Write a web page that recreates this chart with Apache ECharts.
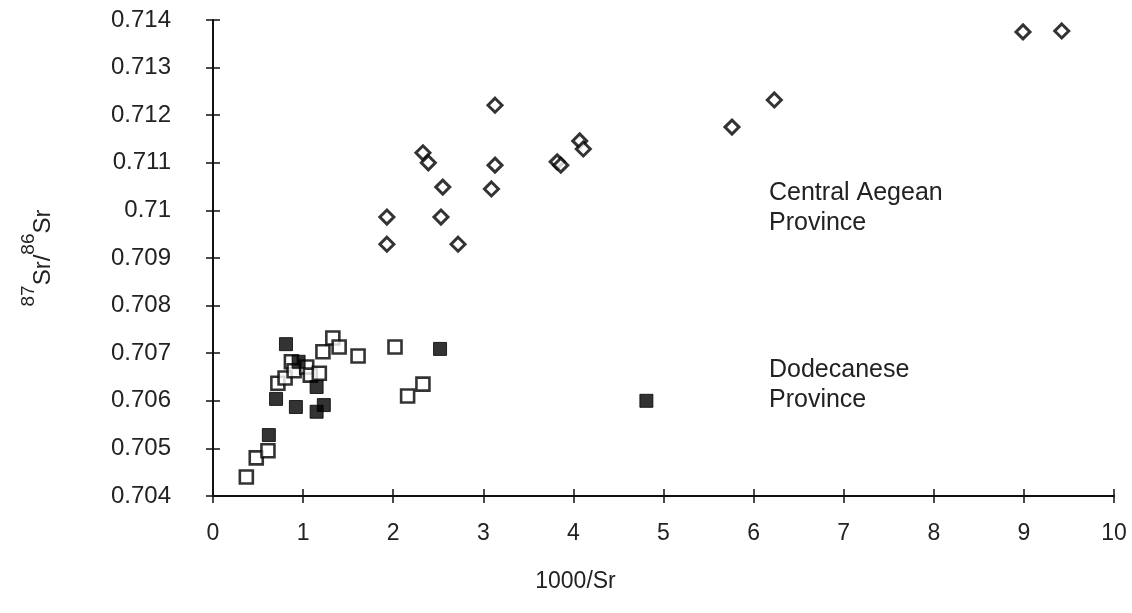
<!DOCTYPE html>
<html>
<head>
<meta charset="utf-8">
<script src="https://cdn.jsdelivr.net/npm/echarts@6/dist/echarts.min.js"></script>
<style>
  html, body { margin: 0; padding: 0; background: #fff; }
  #chart { width: 1132px; height: 613px; }
</style>
</head>
<body>
<div id="chart"></div>
<script>
// Central Aegean Province (open diamonds): [1000/Sr, 87Sr/86Sr]
var aegeanX = [1.93, 1.93, 2.33, 2.39, 2.53, 2.55, 2.72, 3.09, 3.13, 3.13, 3.82, 3.86, 4.07, 4.11, 5.76, 6.23, 8.99, 9.42];
var aegeanY = [0.70986, 0.70929, 0.71121, 0.71100, 0.70986, 0.71049, 0.70929, 0.71045, 0.71095, 0.71221, 0.71102, 0.71095, 0.71146, 0.71129, 0.71175, 0.71232, 0.71375, 0.71377];

// Dodecanese Province, open squares
var dodeOpenX = [0.37, 0.48, 0.61, 0.72, 0.80, 0.87, 0.90, 1.04, 1.08, 1.18, 1.22, 1.33, 1.40, 1.61, 2.02, 2.16, 2.33];
var dodeOpenY = [0.70440, 0.70480, 0.70495, 0.70637, 0.70648, 0.70682, 0.70663, 0.70671, 0.70654, 0.70658, 0.70703, 0.70732, 0.70713, 0.70694, 0.70713, 0.70610, 0.70635];

// Dodecanese Province, filled squares
var dodeFillX = [0.62, 0.70, 0.81, 0.92, 0.95, 1.15, 1.15, 1.23, 2.52, 4.81];
var dodeFillY = [0.70528, 0.70604, 0.70719, 0.70587, 0.70682, 0.70629, 0.70577, 0.70591, 0.70709, 0.70600];

var xTicks = [0, 10, 1];          // min, max, interval
var yTicks = [0.704, 0.714, 0.001];

function pairs(xs, ys) {
    return xs.map(function (x, i) { return [x, ys[i]]; });
}

var chart = echarts.init(document.getElementById('chart'));
var ink = '#000';
var txt = '#222';
var font = 'Liberation Sans';

var baseX = {
    type: 'value', min: xTicks[0], max: xTicks[1], interval: xTicks[2],
    splitLine: { show: false }
};
var baseY = {
    type: 'value', min: yTicks[0], max: yTicks[1], interval: yTicks[2],
    splitLine: { show: false }
};

var option = {
    backgroundColor: '#fff',
    animation: false,
    grid: { left: 213, right: 18, top: 20, bottom: 117, outerBoundsMode: 'none', containLabel: false },
    xAxis: [
        Object.assign({}, baseX, {
            axisLine: { lineStyle: { color: '#111', width: 2 } },
            axisTick: { length: 7, lineStyle: { color: '#111', width: 1.5 } },
            axisLabel: { color: txt, fontSize: 23, fontFamily: font, margin: 26 },
            name: '1000/Sr',
            nameLocation: 'middle',
            nameGap: 74,
            nameTextStyle: { color: txt, fontSize: 23, fontFamily: font, padding: [0, 176, 0, 0] }
        }),
        // second copy only for the inner half of the crossing ticks
        Object.assign({}, baseX, {
            position: 'bottom',
            axisLine: { show: false },
            axisTick: { inside: true, length: 7, lineStyle: { color: '#111', width: 1.5 } },
            axisLabel: { show: false }
        })
    ],
    yAxis: [
        Object.assign({}, baseY, {
            axisLine: { lineStyle: { color: '#111', width: 2 } },
            axisTick: { length: 7, lineStyle: { color: '#111', width: 1.5 } },
            axisLabel: { color: txt, fontSize: 24, fontFamily: font, margin: 42 },
            name: '{sup|87}{b|Sr/}{sup|86}{b|Sr}',
            nameLocation: 'middle',
            nameGap: 158,
            nameRotate: 90,
            nameTextStyle: {
                color: txt, fontFamily: font,
                rich: {
                    b: { fontSize: 24, fontFamily: font, color: txt, verticalAlign: 'bottom', lineHeight: 36 },
                    sup: { fontSize: 19, fontFamily: font, color: txt, verticalAlign: 'top', lineHeight: 36 }
                }
            }
        }),
        Object.assign({}, baseY, {
            position: 'left',
            axisLine: { show: false },
            axisTick: { inside: true, length: 7, lineStyle: { color: '#111', width: 1.5 } },
            axisLabel: { show: false }
        })
    ],
    graphic: [
        { type: 'text', left: 769, top: 178, style: { text: 'Central Aegean\nProvince', fill: txt, font: '25px "Liberation Sans"', lineHeight: 30 } },
        { type: 'text', left: 769, top: 355, style: { text: 'Dodecanese\nProvince', fill: txt, font: '25px "Liberation Sans"', lineHeight: 30 } }
    ],
    series: [
        {
            name: 'Central Aegean', type: 'scatter', symbol: 'diamond', symbolSize: 14,
            itemStyle: { color: '#fff', borderColor: ink, borderWidth: 3 },
            data: pairs(aegeanX, aegeanY)
        },
        {
            name: 'Dodecanese open', type: 'scatter', symbol: 'rect', symbolSize: 13,
            itemStyle: { color: '#fff', borderColor: ink, borderWidth: 2.6 },
            data: pairs(dodeOpenX, dodeOpenY)
        },
        {
            name: 'Dodecanese filled', type: 'scatter', symbol: 'rect', symbolSize: 13,
            itemStyle: { color: ink, borderColor: ink, borderWidth: 1 },
            data: pairs(dodeFillX, dodeFillY)
        }
    ]
};

chart.setOption(option);
</script>
</body>
</html>
